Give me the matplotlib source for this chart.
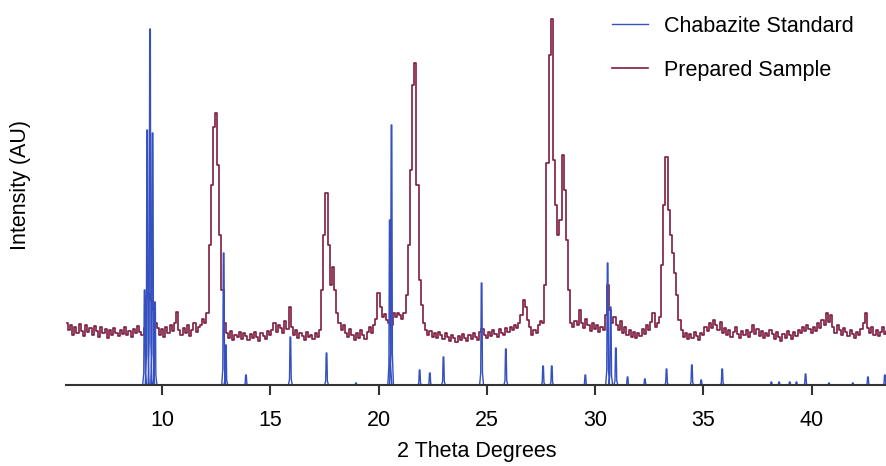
import matplotlib
matplotlib.use("Agg")
import matplotlib.pyplot as plt
import numpy as np

# 2-theta grid for the measured sample (0.1 degree steps, 5.6 .. 43.5)
two_theta = np.round(np.arange(5.6, 43.55, 0.1), 1)

# prepared sample intensity (arbitrary units), one row per degree
sample_intensity = [
    62, 55, 60, 50,                                   # 5.6-5.9
    58, 52, 61, 54, 49, 60, 53, 57, 50, 59,           # 6
    54, 48, 58, 52, 56, 47, 55, 50, 57, 52,           # 7
    49, 55, 51, 58, 50, 54, 48, 56, 52, 59,           # 8
    53, 50, 57, 88, 92, 85, 75, 62, 57, 50,           # 9
    56, 48, 58, 52, 60, 54, 62, 73, 55, 50,           # 10
    57, 52, 60, 49, 55, 62, 53, 58, 60, 66,           # 11
    62, 72, 140, 200, 258, 272, 220, 150, 95, 62,     # 12
    52, 47, 54, 45, 50, 48, 53, 46, 52, 49,           # 13
    45, 51, 47, 53, 48, 44, 52, 49, 46, 54,           # 14
    50, 55, 62, 53, 60, 57, 52, 64, 56, 78,           # 15
    58, 50, 55, 47, 52, 49, 45, 53, 48, 50,           # 16
    46, 52, 48, 55, 95, 150, 192, 140, 100, 118,      # 17
    95, 72, 62, 55, 60, 52, 48, 56, 50, 45,           # 18
    52, 47, 55, 50, 46, 53, 58, 52, 60, 66,           # 19
    92, 78, 68, 71, 65, 62, 60, 72, 68, 72,           # 20
    70, 66, 72, 90, 140, 215, 300, 322, 200, 105,     # 21
    80, 62, 55, 50, 54, 48, 52, 47, 53, 50,           # 22
    46, 52, 48, 44, 50, 47, 43, 49, 45, 51,           # 23
    47, 44, 50, 46, 52, 48, 45, 53, 56, 50,           # 24
    47, 53, 49, 55, 51, 48, 56, 52, 50, 57,           # 25
    53, 58, 55, 60, 57, 62, 70, 85, 78, 65,           # 26
    58, 50, 55, 52, 60, 64, 62, 100, 222, 330,        # 27
    366, 225, 180, 150, 165, 230, 195, 145, 95, 62,   # 28
    58, 64, 60, 75, 62, 57, 66, 60, 54, 62,           # 29
    56, 60, 53, 58, 55, 70, 100, 75, 62, 68,          # 30
    60, 55, 64, 52, 58, 50, 55, 48, 53, 47,           # 31
    52, 49, 56, 51, 60, 55, 63, 72, 58, 62,           # 32
    68, 120, 180, 228, 175, 150, 132, 112, 90, 65,    # 33
    55, 48, 52, 46, 51, 47, 53, 49, 45, 52,           # 34
    50, 58, 54, 62, 57, 65, 60, 55, 63, 52,           # 35
    57, 50, 55, 48, 53, 58, 51, 47, 54, 50,           # 36
    55, 48, 53, 60, 51, 56, 49, 54, 47, 52,           # 37
    49, 55, 51, 46, 53, 48, 44, 51, 47, 54,           # 38
    50, 46, 53, 49, 55, 52, 58, 54, 60, 56,           # 39
    52, 58, 54, 62, 57, 65, 60, 72, 63, 70,           # 40
    58, 52, 60, 55, 50, 57, 53, 49, 55, 51,           # 41
    47, 53, 50, 56, 62, 72, 57, 52, 58, 50,           # 42
    55, 49, 53, 58, 51, 54,                           # 43.0-43.5
]

# chabazite reference reflections: position (deg) and height (AU)
standard_pos = [9.2, 9.32, 9.45, 9.57, 9.68, 12.85, 12.95, 13.88, 15.93, 17.6,
                18.96, 20.52, 20.6, 21.9, 22.37, 23.0, 24.76, 25.88, 27.6, 28.0,
                29.55, 30.58, 30.72, 30.96, 31.5, 32.3, 33.3, 34.47, 34.9, 35.87,
                38.14, 38.5, 38.99, 39.3, 39.72, 40.8, 41.9, 42.6, 43.38]
standard_height = [95, 255, 356, 252, 83, 132, 40, 10, 48, 32,
                   2, 165, 260, 15, 12, 28, 102, 36, 19, 19,
                   10, 122, 78, 37, 8, 6, 16, 20, 5, 16,
                   3, 3, 3, 3, 11, 2, 2, 8, 10]

plt.rcParams["font.family"] = ["Liberation Sans", "DejaVu Sans"]
FS = 15.5

# narrow peak outline for each reference reflection (NaN breaks between peaks)
prof_dx = np.array([-0.09, -0.04, -0.015, 0.015, 0.04, 0.09, np.nan])
prof_fy = np.array([0.0, 0.12, 1.0, 1.0, 0.12, 0.0, np.nan])
std_x = np.concatenate([p + prof_dx for p in standard_pos])
std_y = np.concatenate([h * prof_fy for h in standard_height])

fig = plt.figure(figsize=(8.87, 4.66), dpi=100)
ax = fig.add_axes([66 / 887, 81 / 466, 821 / 887, 385 / 466])

ax.plot(two_theta, sample_intensity, color="#7d1d40", linewidth=1.2, drawstyle="steps-mid",
        label="Prepared Sample", zorder=2)
ax.plot(std_x, std_y, color="#3550c0", linewidth=1.0, label="Chabazite Standard", zorder=3)

ax.set_xlim(5.57, 43.48)
ax.set_ylim(0, 385)
ax.set_xticks([10, 15, 20, 25, 30, 35, 40])
ax.set_yticks([])
for side in ["left", "top", "right"]:
    ax.spines[side].set_visible(False)
ax.spines["bottom"].set_color("#333333")
ax.spines["bottom"].set_linewidth(1.5)
ax.spines["bottom"].set_zorder(4)
ax.tick_params(axis="x", direction="out", length=7, width=1.5, color="#333333", pad=11, labelsize=FS)

ax.set_xlabel("2 Theta Degrees", fontsize=FS, labelpad=7)
ax.set_ylabel("Intensity (AU)", fontsize=FS)
ax.yaxis.set_label_coords(-0.043, 0.52)

handles, labels = ax.get_legend_handles_labels()
fig.legend(handles[::-1], labels[::-1], loc="upper left", bbox_to_anchor=(612 / 887, 1 - 16 / 466),
           frameon=False, fontsize=FS, handlelength=1.65, handletextpad=0.75,
           borderpad=0, borderaxespad=0, labelspacing=1.05)

fig.savefig("out.png", dpi=100)
